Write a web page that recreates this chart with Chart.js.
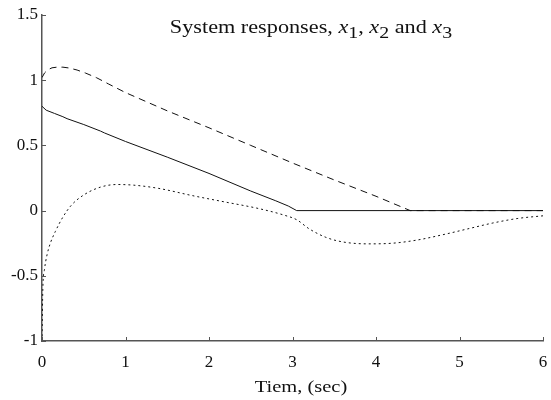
<!DOCTYPE html>
<html>
<head>
<meta charset="utf-8">
<script src="https://cdn.jsdelivr.net/npm/chart.js@4.4.1/dist/chart.umd.min.js"></script>
<style>
  html, body { margin: 0; padding: 0; background: #fff; }
  #wrap { width: 551px; height: 400px; }
</style>
</head>
<body>
<div id="wrap"><canvas id="c" width="551" height="400"></canvas></div>
<script>
// Time samples (sec) and state values for each response
const x1Time  = [0, 0.05, 0.15, 0.25, 0.3, 0.5, 0.7, 0.75, 1, 1.5, 2, 2.5, 2.8, 2.95, 3.05, 6];
const x1Value = [0.80, 0.77, 0.745, 0.72, 0.705, 0.66, 0.61, 0.595, 0.53, 0.41, 0.285, 0.15, 0.075, 0.035, 0, 0];

const x2Time  = [0, 0.03, 0.07, 0.12, 0.18, 0.25, 0.33, 0.42, 0.52, 0.65, 0.8, 1, 1.5, 2, 2.5, 3, 3.5, 4, 4.41, 6];
const x2Value = [1.02, 1.055, 1.08, 1.095, 1.1, 1.1, 1.093, 1.078, 1.055, 1.02, 0.97, 0.905, 0.765, 0.635, 0.5, 0.365, 0.235, 0.11, 0, 0];

const x3Time  = [0, 0.01, 0.03, 0.06, 0.1, 0.16, 0.25, 0.35, 0.5, 0.7, 0.9, 1.1, 1.4, 1.8, 2.2, 2.6, 2.9, 3.05, 3.2, 3.4, 3.6, 3.9, 4.2, 4.5, 4.8, 5.1, 5.4, 5.7, 6];
const x3Value = [-1, -0.6, -0.45, -0.34, -0.25, -0.16, -0.05, 0.04, 0.12, 0.18, 0.2, 0.195, 0.17, 0.115, 0.065, 0.015, -0.035, -0.07, -0.14, -0.205, -0.24, -0.255, -0.25, -0.225, -0.185, -0.14, -0.095, -0.06, -0.04];

// Axis ticks
const xTicks = [0, 1, 2, 3, 4, 5, 6];
const yTicks = [-1, -0.5, 0, 0.5, 1, 1.5];

const FONT = '"Liberation Serif", "Times New Roman", serif';
const AXIS_COLOR = '#555';
const TEXT_STRETCH = 1.17;

function pts(t, v) { return t.map((x, i) => ({ x: x, y: v[i] })); }

// Inward tick marks on the left and bottom axes
const inwardTicks = {
  id: 'inwardTicks',
  afterDraw(chart) {
    const { ctx, chartArea, scales } = chart;
    ctx.save();
    ctx.strokeStyle = AXIS_COLOR;
    ctx.lineWidth = 1;
    ctx.beginPath();
    xTicks.forEach(v => {
      const px = Math.round(scales.x.getPixelForValue(v)) + 0.5;
      ctx.moveTo(px, chartArea.bottom);
      ctx.lineTo(px, chartArea.bottom - 4);
    });
    yTicks.forEach(v => {
      const py = Math.round(scales.y.getPixelForValue(v)) + 0.5;
      ctx.moveTo(chartArea.left, py);
      ctx.lineTo(chartArea.left + 4, py);
    });
    ctx.stroke();
    ctx.restore();
  }
};

// Draws a run of text pieces centred on cx, widened slightly like the rest of the lettering
function drawRun(ctx, parts, cx, base) {
  let total = 0;
  parts.forEach(p => { ctx.font = p.f; p.w = ctx.measureText(p.t).width; total += p.w; });
  ctx.save();
  ctx.translate(cx, base);
  ctx.scale(TEXT_STRETCH, 1);
  let x = -total / 2;
  parts.forEach(p => {
    ctx.font = p.f;
    ctx.fillText(p.t, x, p.dy || 0);
    x += p.w;
  });
  ctx.restore();
}

// Title with italic state names and subscripts, and the time-axis caption
const captions = {
  id: 'captions',
  afterDraw(chart) {
    const { ctx, chartArea } = chart;
    ctx.save();
    ctx.fillStyle = '#111';
    ctx.textBaseline = 'alphabetic';
    ctx.textAlign = 'left';
    const main = '19px ' + FONT, ital = 'italic 19px ' + FONT, sub = '17px ' + FONT;
    drawRun(ctx, [
      { t: 'System responses, ', f: main },
      { t: 'x', f: ital },
      { t: '1', f: sub, dy: 5 },
      { t: ', ', f: main },
      { t: 'x', f: ital },
      { t: '2', f: sub, dy: 5 },
      { t: ' and ', f: main },
      { t: 'x', f: ital },
      { t: '3', f: sub, dy: 5 }
    ], 311, chartArea.top + 18);
    drawRun(ctx, [{ t: 'Tiem, (sec)', f: '17.5px ' + FONT }], 301, chartArea.bottom + 51);
    ctx.restore();
  }
};

new Chart(document.getElementById('c'), {
  type: 'line',
  data: {
    datasets: [
      { label: 'x1', data: pts(x1Time, x1Value), borderColor: '#111', borderWidth: 1, pointRadius: 0, fill: false, tension: 0 },
      { label: 'x2', data: pts(x2Time, x2Value), borderColor: '#111', borderWidth: 1, borderDash: [7, 5], pointRadius: 0, fill: false, tension: 0 },
      { label: 'x3', data: pts(x3Time, x3Value), borderColor: '#111', borderWidth: 1, borderDash: [2, 3], pointRadius: 0, fill: false, cubicInterpolationMode: 'monotone' }
    ]
  },
  options: {
    responsive: false,
    animation: false,
    events: [],
    layout: { padding: { left: 0, top: 15, right: 8, bottom: 0 } },
    plugins: { legend: { display: false }, tooltip: { enabled: false }, title: { display: false } },
    scales: {
      x: {
        type: 'linear', min: 0, max: 6,
        afterBuildTicks: s => { s.ticks = xTicks.map(v => ({ value: v })); },
        afterFit: s => { s.height = 59; s.paddingLeft = 0; s.paddingRight = 0; },
        grid: { display: false, drawTicks: false },
        border: { display: true, color: AXIS_COLOR, width: 1.5 },
        ticks: { color: '#111', font: { family: FONT, size: 17 }, padding: 11, maxRotation: 0, callback: v => String(v) }
      },
      y: {
        type: 'linear', min: -1, max: 1.5,
        afterBuildTicks: s => { s.ticks = yTicks.map(v => ({ value: v })); },
        afterFit: s => { s.width = 42; s.paddingTop = 0; s.paddingBottom = 0; },
        grid: { display: false, drawTicks: false },
        border: { display: true, color: AXIS_COLOR, width: 1.5 },
        ticks: { color: '#111', font: { family: FONT, size: 17 }, padding: 4, callback: v => String(v) }
      }
    }
  },
  plugins: [inwardTicks, captions]
});
</script>
</body>
</html>
